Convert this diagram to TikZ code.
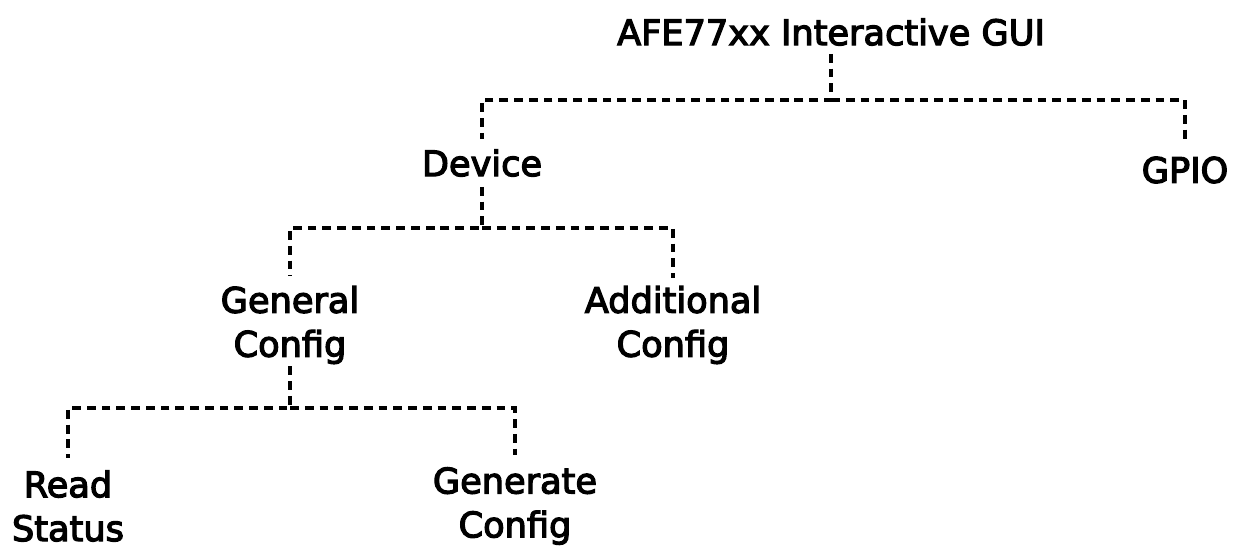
\documentclass[tikz,border=0pt]{standalone}
\usepackage{fontspec}
\setmainfont{DejaVu Sans}[FakeBold=3.5]
\usetikzlibrary{calc}
\begin{document}
\begin{tikzpicture}[x=0.02cm,y=-0.02cm,
  lbl/.style={font=\fontsize{20}{25}\selectfont, align=center, inner sep=0pt, text=black},
  dl/.style={draw=black, line width=2pt, dash pattern=on 5pt off 3.4pt}]
\useasboundingbox (0,0) rectangle (1239,548);
\node[lbl] (title) at (831,32) {AFE77xx Interactive GUI};
\node[lbl] (device) at (482,163) {Device};
\node[lbl] (gpio) at (1185,170) {GPIO};
\node[lbl] (gen) at (290,325) {General\\Config};
\node[lbl] (add) at (673,325) {Additional\\Config};
\node[lbl] (read) at (68,506) {Read\\Status};
\node[lbl] (genc) at (515,506) {Generate\\Config};
\coordinate (bus1) at (0,100);
\coordinate (bus2) at (0,228);
\coordinate (bus3) at (0,408);
\draw[dl] ($(title.south)+(0,8)$) coordinate (t0) -- (t0 |- bus1) -| ($(device.north)+(0,-10)$);
\draw[dl] (t0 |- bus1) -| ($(gpio.north)+(0,-12)$);
\draw[dl] ($(device.south)+(0,10)$) coordinate (d0) -- (d0 |- bus2) -| ($(gen.north)+(0,-10)$);
\draw[dl] (d0 |- bus2) -| ($(add.north)+(0,-8)$);
\draw[dl] ($(gen.south)+(0,2)$) coordinate (g0) -- (g0 |- bus3) -| ($(read.north)+(0,-12)$);
\draw[dl] (g0 |- bus3) -| ($(genc.north)+(0,-12)$);
\end{tikzpicture}
\end{document}
